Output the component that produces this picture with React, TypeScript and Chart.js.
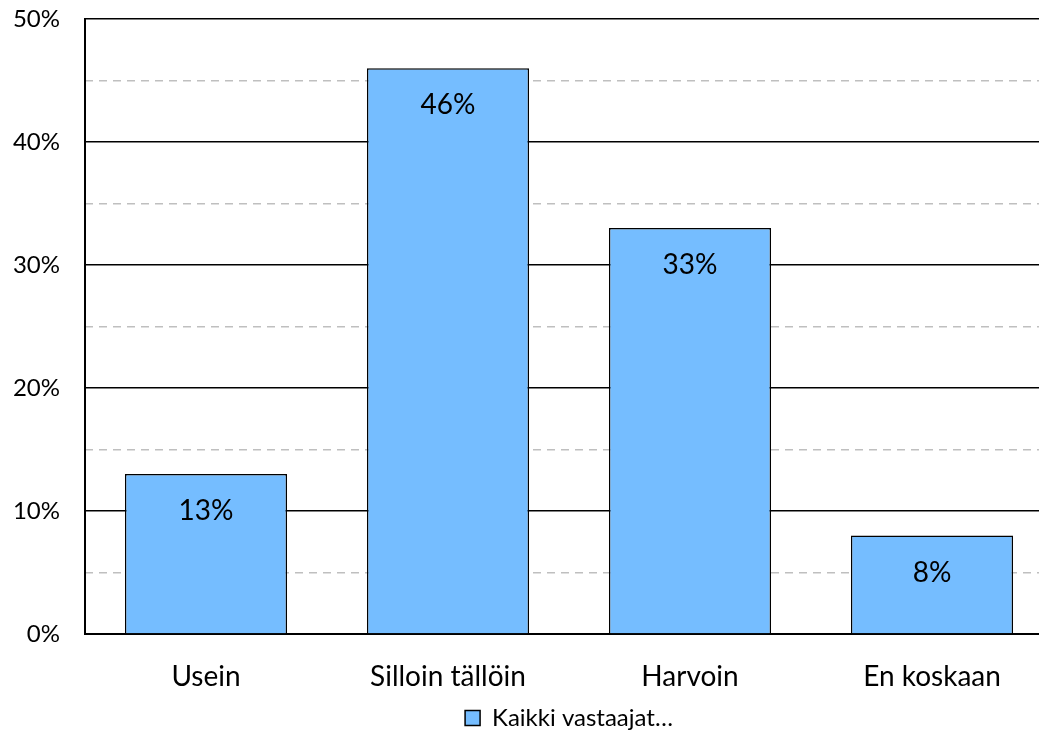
import React, { useEffect, useRef } from "react";
import { Chart, registerables } from "chart.js";

Chart.register(...registerables);

const categories = ["Usein", "Silloin tällöin", "Harvoin", "En koskaan"];
const seriesName = "Kaikki vastaajat…";
const values = [13, 46, 33, 8];
const yMax = 50;

const FONT = "Lato, 'Noto Sans', sans-serif";

const dataLabelPlugin = {
  id: "dataLabels",
  afterDatasetsDraw(chart: any) {
    const ctx = chart.ctx;
    const meta = chart.getDatasetMeta(0);
    ctx.save();
    ctx.fillStyle = "#000";
    ctx.font = `28px ${FONT}`;
    ctx.textAlign = "center";
    ctx.textBaseline = "middle";
    meta.data.forEach((bar: any, i: number) => {
      ctx.fillText(values[i] + "%", bar.x, bar.y + 37);
    });
    ctx.restore();
  },
};

export default function App() {
  const ref = useRef<HTMLCanvasElement>(null);
  useEffect(() => {
    document.body.style.margin = "0";
    const chart = new Chart(ref.current!, {
      type: "bar",
      data: {
        labels: categories,
        datasets: [
          {
            label: seriesName,
            data: values,
            backgroundColor: "#75BDFF",
            borderColor: "#000",
            borderWidth: 1.5,
            categoryPercentage: 0.67,
            barPercentage: 1,
          },
        ],
      },
      options: {
        animation: false,
        responsive: false,
        maintainAspectRatio: false,
        layout: { padding: { left: 0, right: 5, top: 19, bottom: 0 } },
        plugins: {
          tooltip: { enabled: false },
          legend: {
            position: "bottom",
            fullSize: false,
            labels: {
              font: { family: FONT, size: 24 },
              color: "#000",
              boxWidth: 15,
              boxHeight: 15,
              padding: 10,
              generateLabels: () => [
                {
                  text: seriesName,
                  fillStyle: "#75BDFF",
                  strokeStyle: "#000",
                  lineWidth: 1.5,
                  datasetIndex: 0,
                } as any,
              ],
            },
          },
        },
        scales: {
          x: {
            grid: { display: false, drawTicks: false },
            border: { display: true, color: "#000", width: 2 },
            ticks: { font: { family: FONT, size: 28 }, color: "#000", padding: 26 },
            afterFit(scale: any) {
              scale.height = 62;
              scale.paddingLeft = 0;
              scale.paddingRight = 0;
            },
          },
          y: {
            min: 0,
            max: yMax,
            grid: { color: "#000", lineWidth: 1.5, drawTicks: false },
            border: { display: true, color: "#000", width: 2 },
            ticks: {
              stepSize: 10,
              font: { family: FONT, size: 24 },
              color: "#000",
              padding: 25,
              callback: (v: any) => v + "%",
            },
            afterFit(scale: any) {
              scale.width = 85;
              scale.paddingTop = 0;
              scale.paddingBottom = 0;
            },
          },
          y2: {
            position: "right",
            min: 0,
            max: yMax,
            grid: {
              drawTicks: false,
              lineWidth: 1.5,
              color: (c: any) => (c.tick && c.tick.value % 10 !== 0 ? "#BFBFBF" : "rgba(0,0,0,0)"),
            },
            border: { display: false, dash: [8, 6] },
            ticks: { stepSize: 5, display: false },
            afterFit(scale: any) {
              scale.width = 0;
              scale.paddingTop = 0;
              scale.paddingBottom = 0;
            },
          },
        },
      },
      plugins: [dataLabelPlugin],
    } as any);
    return () => chart.destroy();
  }, []);
  return (
    <div style={{ width: 1039, height: 740, overflow: "hidden" }}>
      <canvas ref={ref} width={1058} height={740} style={{ display: "block" }} />
    </div>
  );
}
